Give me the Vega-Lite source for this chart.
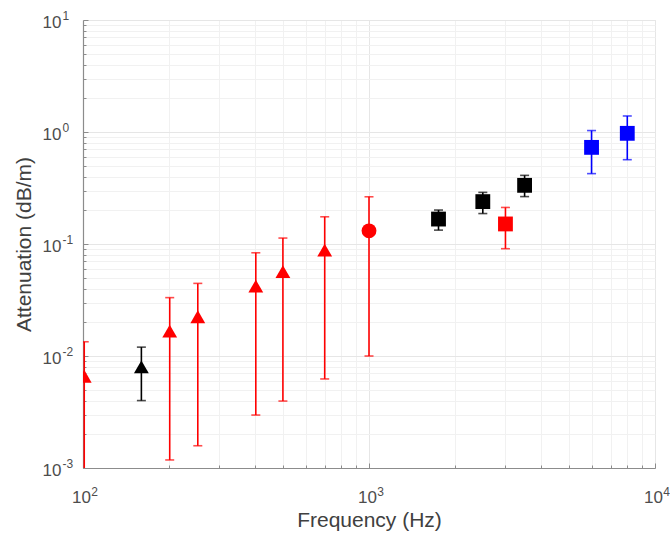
{
  "$schema": "https://vega.github.io/schema/vega-lite/v6.json",
  "autosize": {"type": "none"},
  "padding": {"left": 83, "top": 20, "right": 15, "bottom": 65},
  "width": 572,
  "height": 448,
  "background": "white",
  "config": {
    "view": {"stroke": "#e0e0e0", "strokeWidth": 1},
    "font": "Liberation Sans"
  },
  "data": {
    "values": [
      {"study": "A", "freq": 101, "att": 0.0066, "lo": 0.0005, "hi": 0.0134},
      {"study": "B", "freq": 160, "att": 0.0080, "lo": 0.0040, "hi": 0.0120},
      {"study": "A", "freq": 201, "att": 0.0167, "lo": 0.00118, "hi": 0.0332},
      {"study": "A", "freq": 252, "att": 0.0224, "lo": 0.00158, "hi": 0.0445},
      {"study": "A", "freq": 402, "att": 0.0421, "lo": 0.00297, "hi": 0.0835},
      {"study": "A", "freq": 500, "att": 0.0566, "lo": 0.00396, "hi": 0.113},
      {"study": "A", "freq": 700, "att": 0.0883, "lo": 0.00624, "hi": 0.175},
      {"study": "C", "freq": 1000, "att": 0.131, "lo": 0.0100, "hi": 0.264},
      {"study": "D", "freq": 1750, "att": 0.167, "lo": 0.133, "hi": 0.201},
      {"study": "D", "freq": 2500, "att": 0.239, "lo": 0.187, "hi": 0.289},
      {"study": "E", "freq": 3000, "att": 0.151, "lo": 0.0908, "hi": 0.212},
      {"study": "D", "freq": 3500, "att": 0.334, "lo": 0.265, "hi": 0.410},
      {"study": "F", "freq": 6000, "att": 0.729, "lo": 0.425, "hi": 1.03},
      {"study": "F", "freq": 8000, "att": 0.973, "lo": 0.566, "hi": 1.39}
    ]
  },
  "encoding": {
    "x": {
      "field": "freq", "type": "quantitative",
      "scale": {"type": "log", "domain": [100, 10000], "nice": false}
    },
    "color": {
      "field": "study", "type": "nominal", "legend": null,
      "scale": {"domain": ["A","B","C","D","E","F"], "range": ["#ff0000","#000000","#ff0000","#000000","#ff0000","#0000ff"]}
    }
  },
  "resolve": {"axis": {"x": "independent", "y": "independent"}},
  "layer": [
    {
      "mark": {"type": "rule", "strokeWidth": 1.6, "clip": true},
      "encoding": {
        "x": {
          "field": "freq", "type": "quantitative",
          "scale": {"type": "log", "domain": [100, 10000], "nice": false},
          "axis": {
            "orient": "bottom",
            "title": "Frequency (Hz)",
            "values": [100,200,300,400,500,600,700,800,900,1000,2000,3000,4000,5000,6000,7000,8000,9000,10000],
            "labelExpr": "datum.value == 100 || datum.value == 1000 || datum.value == 10000 ? '10' : ''",
            "labelOverlap": false,
            "labelFlush": false,
            "labelFontSize": 17,
            "labelColor": "#4d4d4d",
            "labelPadding": 26,
            "labelOffset": -2,
            "titleFontSize": 21,
            "titleFontWeight": "normal",
            "titleColor": "#404040",
            "titlePadding": 2,
            "domainColor": "#8c8c8c",
            "domainWidth": 1.2,
            "tickColor": "#8c8c8c",
            "tickSize": {"condition": {"test": "datum.value == 100 || datum.value == 1000 || datum.value == 10000", "value": -5}, "value": -3},
            "grid": true,
            "gridColor": {"condition": {"test": "datum.value == 100 || datum.value == 1000 || datum.value == 10000", "value": "#e6e6e6"}, "value": "#f1f1f1"}
          }
        },
        "y": {
          "field": "lo", "type": "quantitative",
          "scale": {"type": "log", "domain": [0.001, 10], "nice": false},
          "axis": {
            "orient": "left",
            "title": "Attenuation (dB/m)",
            "values": [0.001,0.002,0.003,0.004,0.005,0.006,0.007,0.008,0.009,0.01,0.02,0.03,0.04,0.05,0.06,0.07,0.08,0.09,0.1,0.2,0.3,0.4,0.5,0.6,0.7,0.8,0.9,1,2,3,4,5,6,7,8,9,10],
            "labelExpr": "datum.value == 0.001 || datum.value == 0.01 || datum.value == 0.1 || datum.value == 1 || datum.value == 10 ? '10' : ''",
            "labelOverlap": false,
            "labelFlush": false,
            "labelFontSize": 17,
            "labelColor": "#4d4d4d",
            "labelPadding": 27,
            "labelOffset": 2,
            "titleFontSize": 21,
            "titleFontWeight": "normal",
            "titleColor": "#404040",
            "titlePadding": 8,
            "domainColor": "#8c8c8c",
            "domainWidth": 1.2,
            "tickColor": "#8c8c8c",
            "tickSize": {"condition": {"test": "datum.value == 0.001 || datum.value == 0.01 || datum.value == 0.1 || datum.value == 1 || datum.value == 10", "value": -5}, "value": -3},
            "grid": true,
            "gridColor": {"condition": {"test": "datum.value == 0.001 || datum.value == 0.01 || datum.value == 0.1 || datum.value == 1 || datum.value == 10", "value": "#e6e6e6"}, "value": "#f1f1f1"}
          }
        },
        "y2": {"field": "hi"}
      }
    },
    {
      "mark": {"type": "tick", "orient": "horizontal", "size": 9, "thickness": 1.6, "clip": true},
      "encoding": {
        "x": {"field": "freq", "type": "quantitative", "axis": null},
        "y": {"field": "lo", "type": "quantitative", "axis": null}
      }
    },
    {
      "mark": {"type": "tick", "orient": "horizontal", "size": 9, "thickness": 1.6, "clip": true},
      "encoding": {
        "x": {"field": "freq", "type": "quantitative", "axis": null},
        "y": {"field": "hi", "type": "quantitative", "axis": null}
      }
    },
    {
      "mark": {"type": "point", "filled": true, "opacity": 1, "clip": true},
      "encoding": {
        "x": {
          "field": "freq", "type": "quantitative",
          "axis": {
            "orient": "bottom",
            "title": null,
            "values": [100, 1000, 10000],
            "labelExpr": "datum.value == 100 ? '2' : datum.value == 1000 ? '3' : '4'",
            "labelOverlap": false,
            "labelFlush": false,
            "labelFontSize": 12,
            "labelColor": "#4d4d4d",
            "labelPadding": 18,
            "labelOffset": 11,
            "ticks": false,
            "tickSize": 0,
            "domain": false,
            "grid": false
          }
        },
        "y": {
          "field": "att", "type": "quantitative",
          "axis": {
            "orient": "left",
            "title": null,
            "values": [0.001, 0.01, 0.1, 1, 10],
            "labelExpr": "datum.value == 0.001 ? '-3' : datum.value == 0.01 ? '-2' : datum.value == 0.1 ? '-1' : datum.value == 1 ? '0' : '1'",
            "labelOverlap": false,
            "labelFlush": false,
            "labelFontSize": 12,
            "labelColor": "#4d4d4d",
            "labelAlign": "left",
            "labelPadding": 21,
            "labelOffset": -5,
            "ticks": false,
            "tickSize": 0,
            "domain": false,
            "grid": false
          }
        },
        "shape": {"field": "study", "type": "nominal", "legend": null,
          "scale": {"domain": ["A","B","C","D","E","F"], "range": ["triangle-up","triangle-up","circle","square","square","square"]}},
        "size": {"field": "study", "type": "nominal", "legend": null,
          "scale": {"domain": ["A","B","C","D","E","F"], "range": [220,220,150,90,90,100]}}
      }
    }
  ]
}
